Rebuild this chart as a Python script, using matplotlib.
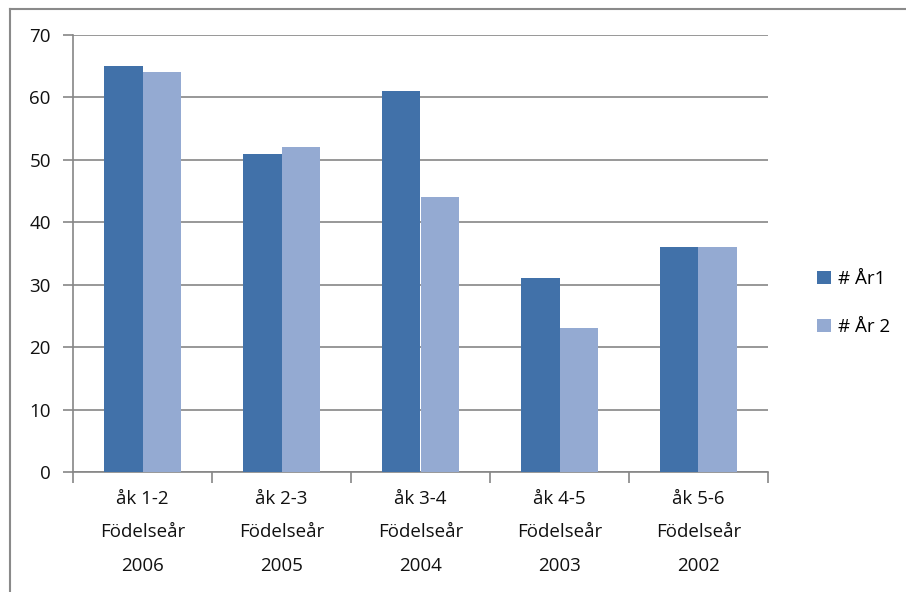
import matplotlib
matplotlib.use("Agg")
import matplotlib.pyplot as plt
import numpy as np
from matplotlib.patches import Patch
from matplotlib.lines import Line2D

categories = ["åk 1-2\nFödelseår\n2006", "åk 2-3\nFödelseår\n2005", "åk 3-4\nFödelseår\n2004",
              "åk 4-5\nFödelseår\n2003", "åk 5-6\nFödelseår\n2002"]
year1 = [65, 51, 61, 31, 36]
year2 = [64, 52, 44, 23, 36]
series_names = ["# År1", "# År 2"]
yticks = [0, 10, 20, 30, 40, 50, 60, 70]

c1 = "#4171A9"
c2 = "#94AAD2"
gray = "#868686"
tc = "#111111"
fs = 13.5

plt.rcParams['font.family'] = ['Open Sans', 'DejaVu Sans']

fig = plt.figure(figsize=(9.06, 5.92), dpi=100)
ax = fig.add_axes([73/906, 1-472/592, (768-73)/906, (472-35)/592])

x = np.arange(len(categories))
w = 0.28
ax.bar(x - w/2, year1, width=w, color=c1, zorder=3)
ax.bar(x + w/2, year2, width=w, color=c2, zorder=3)

ax.set_xlim(-0.5, len(categories) - 0.5)
ax.set_ylim(0, 70)
ax.set_yticks(yticks)
ax.yaxis.grid(True, color=gray, linewidth=1.2, zorder=0)
ax.set_axisbelow(True)
for s in ["top", "right"]:
    ax.spines[s].set_visible(False)
for s in ["left", "bottom"]:
    ax.spines[s].set_color(gray)
    ax.spines[s].set_linewidth(1.2)

ax.set_xticks(x)
ax.set_xticklabels(categories, linespacing=2.1, fontsize=fs, color=tc)
ax.tick_params(axis='x', which='major', length=0, pad=13)
ax.set_xticks(np.arange(-0.5, len(categories)), minor=True)
ax.tick_params(axis='x', which='minor', length=8, width=1.2, color=gray, direction='out')
ax.tick_params(axis='y', length=7, width=1.2, color=gray, labelsize=fs, labelcolor=tc, pad=9)

handles = [Patch(facecolor=c1), Patch(facecolor=c2)]
fig.legend(handles, series_names, loc='center left', bbox_to_anchor=(800/906, 1-303/592),
           frameon=False, fontsize=fs, handlelength=0.75, handleheight=0.75,
           handletextpad=0.35, labelspacing=1.6)

fig.add_artist(Line2D([10/906, 10/906], [0, 1-9/592], transform=fig.transFigure, color="#8a8a8a", lw=1.5))
fig.add_artist(Line2D([10/906, 1], [1-9/592, 1-9/592], transform=fig.transFigure, color="#8a8a8a", lw=1.5))

fig.savefig("out.png", dpi=100)
